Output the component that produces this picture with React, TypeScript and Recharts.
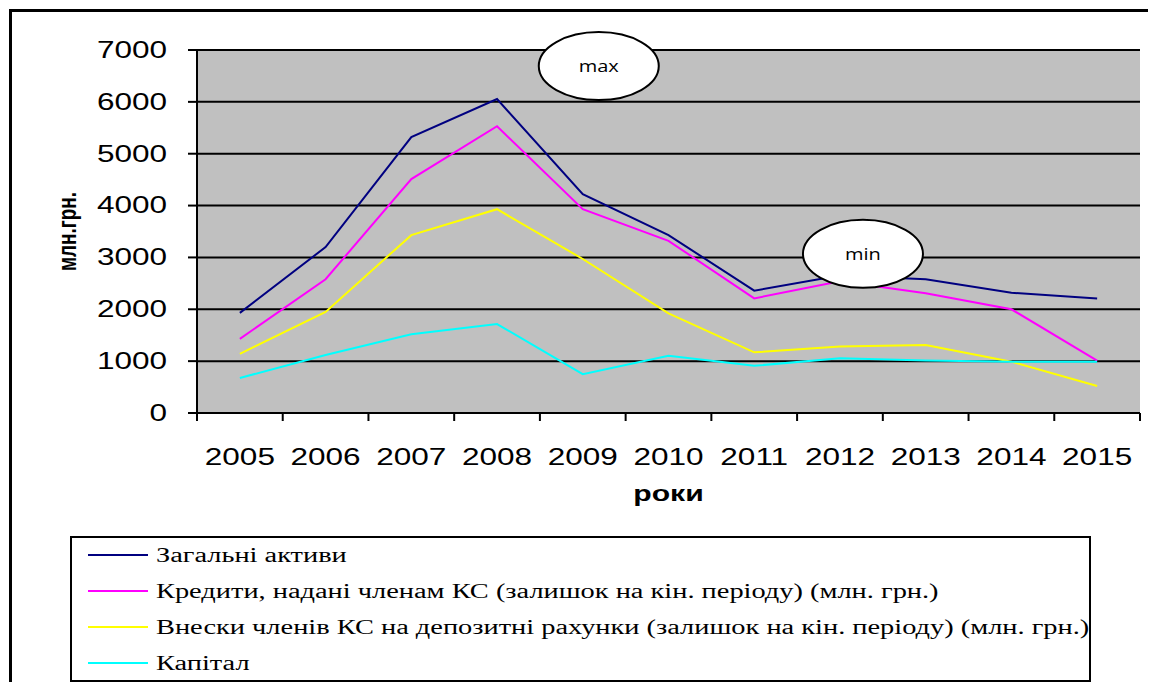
import { LineChart, Line, XAxis, YAxis, CartesianGrid, Legend, ReferenceDot, Label } from 'recharts';

const years = ['2005', '2006', '2007', '2008', '2009', '2010', '2011', '2012', '2013', '2014', '2015'];
const totalAssets = [1930, 3200, 5320, 6055, 4220, 3430, 2360, 2650, 2580, 2320, 2210];
const loans = [1430, 2580, 4510, 5530, 3930, 3320, 2210, 2540, 2310, 2000, 1010];
const deposits = [1140, 1950, 3430, 3930, 2970, 1920, 1170, 1280, 1310, 990, 520];
const capital = [675, 1120, 1520, 1715, 750, 1105, 910, 1055, 1010, 990, 990];
const yTicks = [0, 1000, 2000, 3000, 4000, 5000, 6000, 7000];

const seriesNames = [
    'Загальні активи',
    'Кредити, надані членам КС (залишок на кін. періоду) (млн. грн.)',
    'Внески членів КС на депозитні рахунки (залишок на кін. періоду) (млн. грн.)',
    'Капітал',
];
const seriesColors = ['#000080', '#ff00ff', '#ffff00', '#00ffff'];
const seriesKeys = ['assets', 'loans', 'deposits', 'capital'];

// callouts, placed in data units
const notes = [
    { label: 'max', year: '2009', value: 6690, dx: 16 },
    { label: 'min', year: '2012', value: 3070, dx: 23 },
];

const data = years.map((year, i) => ({
    year,
    assets: totalAssets[i],
    loans: loans[i],
    deposits: deposits[i],
    capital: capital[i],
}));

const W = 1148;
const H = 674;
const margin = { top: 42, right: 16, left: 0, bottom: 229 };
const Y_WIDTH = 189;
const BAND = (W - margin.right - Y_WIDTH) / years.length;
const SX = 1.37; // the original picture is stretched sideways
const SANS = '"Liberation Sans", Arial, sans-serif';
const SERIF = 'Liberation Serif, Times New Roman, serif';

const YTick = (props: any) => {
    const { x, y, payload } = props;
    return (
        <text transform={`translate(${x},${y}) scale(${SX},1)`} textAnchor="end" dominantBaseline="central"
            fontFamily={SANS} fontSize={23} fill="#000">
            {payload.value}
        </text>
    );
};

const XTick = (props: any) => {
    const { x, y, payload, index } = props;
    const left = x - BAND / 2;
    return (
        <g>
            <line x1={left} x2={left} y1={y} y2={y + 8} stroke="#000" strokeWidth={2} />
            {index === years.length - 1 && (
                <line x1={x + BAND / 2} x2={x + BAND / 2} y1={y} y2={y + 8} stroke="#000" strokeWidth={2} />
            )}
            <text transform={`translate(${x},${y + 44}) scale(${SX},1)`} textAnchor="middle" dominantBaseline="central"
                fontFamily={SANS} fontSize={23} fill="#000">
                {payload.value}
            </text>
        </g>
    );
};

const YTitle = (props: any) => {
    const vb = props.viewBox;
    const cy = vb.y + vb.height / 2;
    return (
        <text transform={`translate(${vb.x + 59},${cy}) rotate(-90) scale(1,${SX})`} textAnchor="middle"
            dominantBaseline="central" fontFamily={SANS} fontWeight="bold" fontSize={19} fill="#000">
            млн.грн.
        </text>
    );
};

const XTitle = (props: any) => {
    const vb = props.viewBox;
    return (
        <text transform={`translate(${vb.x + vb.width / 2},${vb.y + 80}) scale(${SX},1)`} textAnchor="middle"
            dominantBaseline="central" fontFamily={SANS} fontWeight="bold" fontSize={22} fill="#000">
            роки
        </text>
    );
};

const Callout = (label: string, dx: number) => (props: any) => {
    const { cx, cy } = props;
    return (
        <g>
            <ellipse cx={cx + dx} cy={cy} rx={60} ry={34} fill="#fff" stroke="#000" strokeWidth={2} />
            <text transform={`translate(${cx + dx},${cy}) scale(1.25,1)`} textAnchor="middle" dominantBaseline="central"
                fontFamily='"Open Sans", sans-serif' fontSize={16} fill="#000">
                {label}
            </text>
        </g>
    );
};

// legend keeps the series order of the original; drawn in svg like the rest
const LegendBox = () => (
    <svg width={1021} height={146} style={{ display: 'block' }}>
        <rect x={1} y={1} width={1019} height={144} fill="#fff" stroke="#000" strokeWidth={2} />
        {seriesNames.map((name, i) => {
            const cy = 19 + i * 36;
            return (
                <g key={name}>
                    <line x1={18} x2={78} y1={cy} y2={cy} stroke={seriesColors[i]} strokeWidth={2} />
                    <text transform={`translate(86,${cy}) scale(1.42,1)`} dominantBaseline="central"
                        fontFamily={SERIF} fontSize={20} fill="#000">
                        {name}
                    </text>
                </g>
            );
        })}
    </svg>
);

export default function App() {
    return (
        <div style={{ position: 'relative', width: W, height: H, overflow: 'hidden' }}>
            <div style={{
                position: 'absolute', left: 1, top: 1, width: 1400, height: 900,
                borderTop: '3px solid #000', borderLeft: '3px solid #000',
            }} />
            <div style={{ position: 'absolute', left: 0, top: 0 }}>
                <LineChart width={W} height={H} data={data} margin={margin}>
                    <CartesianGrid vertical={false} stroke="#000" strokeWidth={2} fill="#c0c0c0" fillOpacity={1} />
                    <XAxis dataKey="year" height={40} tickSize={0} tickMargin={0} tickLine={false}
                        padding={{ left: BAND / 2, right: BAND / 2 }}
                        axisLine={{ stroke: '#000', strokeWidth: 2 }} tick={<XTick />} interval={0}>
                        <Label content={<XTitle />} />
                    </XAxis>
                    <XAxis xAxisId="top" dataKey="year" orientation="top" height={0} tick={false} tickLine={false}
                        padding={{ left: BAND / 2, right: BAND / 2 }}
                        axisLine={{ stroke: '#8c8c8c', strokeWidth: 2 }} />
                    <YAxis width={Y_WIDTH} domain={[0, 7000]} ticks={yTicks} interval={0} tickSize={9} tickMargin={21}
                        tickLine={{ stroke: '#000', strokeWidth: 2 }} axisLine={{ stroke: '#000', strokeWidth: 2 }}
                        tick={<YTick />}>
                        <Label content={<YTitle />} />
                    </YAxis>
                    <YAxis yAxisId="right" orientation="right" width={0} domain={[0, 7000]} tick={false} tickLine={false}
                        axisLine={{ stroke: '#8c8c8c', strokeWidth: 2 }} />
                    {seriesKeys.map((k, i) => (
                        <Line key={k} type="linear" dataKey={k} name={seriesNames[i]} stroke={seriesColors[i]}
                            strokeWidth={2} dot={false} activeDot={false} isAnimationActive={false} />
                    ))}
                    {notes.map((n) => (
                        <ReferenceDot key={n.label} x={n.year} y={n.value} r={1} ifOverflow="visible"
                            shape={Callout(n.label, n.dx)} />
                    ))}
                    <Legend layout="vertical" align="center" verticalAlign="middle" content={<LegendBox />}
                        wrapperStyle={{ left: 62, top: 528, width: 1021, height: 146 }} />
                </LineChart>
            </div>
        </div>
    );
}
